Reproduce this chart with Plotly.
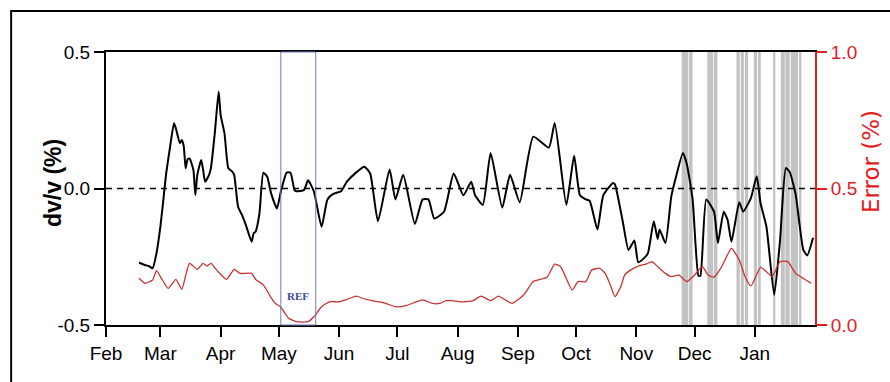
import plotly.graph_objects as go

# dv/v time series (%)
dvv_dates = [
    "2017-02-18", "2017-02-21", "2017-02-23", "2017-02-25", "2017-02-27",
    "2017-03-01", "2017-03-03", "2017-03-04", "2017-03-06", "2017-03-08",
    "2017-03-09", "2017-03-11", "2017-03-12", "2017-03-13", "2017-03-14",
    "2017-03-15", "2017-03-16", "2017-03-18", "2017-03-19", "2017-03-20",
    "2017-03-22", "2017-03-23", "2017-03-24", "2017-03-26", "2017-03-27",
    "2017-03-29", "2017-03-31", "2017-04-01", "2017-04-03", "2017-04-05",
    "2017-04-07", "2017-04-08", "2017-04-10", "2017-04-12", "2017-04-14",
    "2017-04-17", "2017-04-18", "2017-04-19", "2017-04-21", "2017-04-23",
    "2017-04-25", "2017-04-27", "2017-04-30", "2017-05-02", "2017-05-05",
    "2017-05-07", "2017-05-09", "2017-05-10", "2017-05-14", "2017-05-16",
    "2017-05-19", "2017-05-23", "2017-05-26", "2017-05-29", "2017-06-02",
    "2017-06-05", "2017-06-10", "2017-06-14", "2017-06-17", "2017-06-21",
    "2017-06-27", "2017-06-30", "2017-07-04", "2017-07-10", "2017-07-14",
    "2017-07-17", "2017-07-20", "2017-07-25", "2017-07-30", "2017-08-04",
    "2017-08-08", "2017-08-10", "2017-08-14", "2017-08-18", "2017-08-24",
    "2017-08-28", "2017-09-02", "2017-09-09", "2017-09-17", "2017-09-20",
    "2017-09-26", "2017-09-30", "2017-10-03", "2017-10-06", "2017-10-08",
    "2017-10-12", "2017-10-15", "2017-10-20", "2017-10-21", "2017-10-25",
    "2017-10-28", "2017-10-31", "2017-11-02", "2017-11-05", "2017-11-07",
    "2017-11-10", "2017-11-12", "2017-11-13", "2017-11-16", "2017-11-19",
    "2017-11-21", "2017-11-25", "2017-11-27", "2017-11-30", "2017-12-03",
    "2017-12-04", "2017-12-07", "2017-12-11", "2017-12-13", "2017-12-16",
    "2017-12-18", "2017-12-20", "2017-12-24", "2017-12-26", "2017-12-30",
    "2018-01-02", "2018-01-04", "2018-01-07", "2018-01-11", "2018-01-14",
    "2018-01-17", "2018-01-19", "2018-01-22", "2018-01-26", "2018-01-28",
    "2018-01-31",
]
dvv_values = [
    -0.272, -0.28, -0.284, -0.292, -0.237,
    -0.14, -0.01, 0.056, 0.153, 0.239,
    0.22, 0.166, 0.178, 0.156, 0.074,
    0.107, 0.11, 0.068, -0.024, 0.049,
    0.104, 0.068, 0.025, 0.049, 0.074,
    0.202, 0.355, 0.27, 0.202, 0.074,
    0.062, 0.049, -0.067, -0.097, -0.134,
    -0.195, -0.164, -0.158, -0.091, 0.058,
    0.043, -0.018, -0.073, -0.012, 0.058,
    0.058, -0.005, -0.01, -0.005, 0.03,
    -0.01, -0.14, -0.04, -0.02, -0.01,
    0.025, 0.06, 0.08, 0.055, -0.12,
    0.07, -0.04, 0.05, -0.13, -0.04,
    -0.04, -0.11, -0.085, 0.055, -0.025,
    0.025, -0.025, -0.06, 0.13, -0.07,
    0.05, -0.05, 0.19, 0.15, 0.24,
    -0.06, 0.12, -0.025, -0.04, -0.045,
    -0.15, -0.025, 0.02, 0.015, -0.12,
    -0.225, -0.19, -0.27, -0.255, -0.237,
    -0.12, -0.185, -0.15, -0.2, -0.03,
    0.03, 0.13, 0.09, -0.04, -0.32,
    -0.32, -0.04, -0.085, -0.2, -0.085,
    -0.115, -0.195, -0.05, -0.085, -0.035,
    0.045, -0.055, -0.14, -0.39, -0.19,
    0.075, 0.06, -0.02, -0.225, -0.245,
    -0.18,
]

# Error time series (%)
err_dates = [
    "2017-02-18", "2017-02-21", "2017-02-25", "2017-02-27", "2017-03-02",
    "2017-03-05", "2017-03-09", "2017-03-12", "2017-03-16", "2017-03-20",
    "2017-03-23", "2017-03-25", "2017-03-27", "2017-03-30", "2017-04-04",
    "2017-04-08", "2017-04-11", "2017-04-17", "2017-04-19", "2017-04-23",
    "2017-04-27", "2017-04-29", "2017-05-02", "2017-05-06", "2017-05-10",
    "2017-05-16", "2017-05-19", "2017-05-23", "2017-05-27", "2017-06-01",
    "2017-06-05", "2017-06-10", "2017-06-13", "2017-06-18", "2017-06-25",
    "2017-06-30", "2017-07-05", "2017-07-14", "2017-07-19", "2017-07-23",
    "2017-07-26", "2017-07-29", "2017-08-03", "2017-08-09", "2017-08-13",
    "2017-08-18", "2017-08-22", "2017-08-29", "2017-09-04", "2017-09-09",
    "2017-09-16", "2017-09-20", "2017-09-23", "2017-09-29", "2017-10-02",
    "2017-10-06", "2017-10-09", "2017-10-13", "2017-10-16", "2017-10-19",
    "2017-10-21", "2017-10-24", "2017-10-26", "2017-10-29", "2017-11-02",
    "2017-11-06", "2017-11-09", "2017-11-12", "2017-11-16", "2017-11-19",
    "2017-11-23", "2017-11-27", "2017-12-01", "2017-12-05", "2017-12-08",
    "2017-12-11", "2017-12-15", "2017-12-20", "2017-12-24", "2017-12-27",
    "2017-12-30", "2018-01-04", "2018-01-07", "2018-01-10", "2018-01-14",
    "2018-01-18", "2018-01-22", "2018-01-25", "2018-01-30",
]
err_values = [
    0.171, 0.153, 0.165, 0.199, 0.165,
    0.134, 0.167, 0.131, 0.226, 0.204,
    0.226, 0.216, 0.226, 0.201, 0.167,
    0.204, 0.189, 0.189, 0.167, 0.147,
    0.1, 0.08, 0.065, 0.025, 0.012,
    0.012, 0.03, 0.067, 0.085, 0.085,
    0.094, 0.106, 0.098, 0.089, 0.079,
    0.067, 0.07, 0.092, 0.079, 0.079,
    0.089, 0.089, 0.085, 0.089, 0.106,
    0.089, 0.106, 0.079, 0.11, 0.159,
    0.175, 0.223, 0.214, 0.128, 0.159,
    0.159, 0.201, 0.208, 0.189, 0.14,
    0.104, 0.14, 0.183, 0.201, 0.216,
    0.223, 0.232, 0.214, 0.189, 0.177,
    0.183, 0.159, 0.183, 0.214, 0.183,
    0.175, 0.214, 0.281, 0.238, 0.177,
    0.143, 0.211, 0.195, 0.177, 0.232,
    0.232, 0.189, 0.175, 0.153,
]

# Periods flagged as unreliable (shaded)
flag_starts = [
    "2017-11-24 08:00", "2017-11-28 04:00", "2017-12-07 13:00", "2017-12-10 23:00",
    "2017-12-22 14:00", "2017-12-24 19:00", "2017-12-26 21:00", "2017-12-31 12:00",
    "2018-01-02 17:00", "2018-01-10 10:00", "2018-01-14 10:00", "2018-01-16 17:00",
    "2018-01-19 12:00", "2018-01-23 19:00",
]
flag_ends = [
    "2017-11-27 19:00", "2017-11-30 00:00", "2017-12-10 14:00", "2017-12-12 19:00",
    "2017-12-24 07:00", "2017-12-26 09:00", "2017-12-28 14:00", "2018-01-02 05:00",
    "2018-01-04 02:00", "2018-01-11 14:00", "2018-01-16 10:00", "2018-01-19 00:00",
    "2018-01-23 06:00", "2018-01-25 00:00",
]

# Reference stack window
ref_start = "2017-05-02"
ref_end = "2017-05-20"
ref_label = "REF"

x_range = ["2017-02-01", "2018-02-01"]
month_ticks = ["2017-02-01", "2017-03-01", "2017-04-01", "2017-05-01", "2017-06-01",
               "2017-07-01", "2017-08-01", "2017-09-01", "2017-10-01", "2017-11-01",
               "2017-12-01", "2018-01-01"]
month_labels = ["Feb", "Mar", "Apr", "May", "Jun", "Jul", "Aug", "Sep", "Oct", "Nov",
                "Dec", "Jan"]
dvv_ticks = [-0.5, 0.0, 0.5]
dvv_tick_labels = ["-0.5", "0.0", "0.5"]
err_ticks = [0.0, 0.5, 1.0]
err_tick_labels = ["0.0", "0.5", "1.0"]

RED_AXIS = "#e3201f"
RED_LINE = "#c83232"
FONT = "Liberation Sans, Arial, sans-serif"

fig = go.Figure()

fig.add_trace(go.Scatter(
    x=dvv_dates, y=dvv_values, mode="lines",
    line=dict(color="black", width=2, shape="spline", smoothing=0.5),
    yaxis="y", showlegend=False,
))
fig.add_trace(go.Scatter(
    x=err_dates, y=err_values, mode="lines",
    line=dict(color=RED_LINE, width=1.3, shape="spline", smoothing=0.5),
    yaxis="y2", showlegend=False,
))

shapes = []
for s, e in zip(flag_starts, flag_ends):
    shapes.append(dict(type="rect", xref="x", yref="paper", x0=s, x1=e, y0=0, y1=1,
                       fillcolor="#c3c3c3", line=dict(width=0), layer="below"))
# reference window box
shapes.append(dict(type="rect", xref="x", yref="paper", x0=ref_start, x1=ref_end,
                   y0=0, y1=1, fillcolor="rgba(0,0,0,0)",
                   line=dict(color="#6c7bbd", width=1), layer="above"))
# zero line
shapes.append(dict(type="line", xref="paper", yref="y", x0=0, x1=1, y0=0, y1=0,
                   line=dict(color="black", width=1.4, dash="6px,5px"), layer="above"))
# outer frame
shapes.append(dict(type="rect", xref="paper", yref="paper",
                   x0=-0.1338, x1=1.3, y0=-0.4, y1=1.150,
                   fillcolor="rgba(0,0,0,0)", line=dict(color="black", width=2),
                   layer="above"))

annotations = [
    dict(x="2017-05-11", y=-0.395, xref="x", yref="y", text="<b>" + ref_label + "</b>",
         showarrow=False, font=dict(family="Liberation Serif, Times New Roman, serif",
                                    size=11, color="#3d4a9c")),
    dict(x=-0.096, y=0.52, xref="paper", yref="paper", text="<b>dv/v (%)</b>",
         textangle=-90, showarrow=False, font=dict(family=FONT, size=23, color="black")),
    dict(x=1.1, y=0.60, xref="paper", yref="paper", xanchor="right",
         text="Error (%)", textangle=-90, showarrow=False,
         font=dict(family="DejaVu Sans, sans-serif", size=23, color=RED_AXIS)),
]

fig.update_layout(
    width=890, height=382,
    margin=dict(l=106, r=75, t=52, b=57),
    paper_bgcolor="white", plot_bgcolor="white",
    font=dict(family=FONT, size=19, color="black"),
    shapes=shapes, annotations=annotations,
    xaxis=dict(
        type="date", range=x_range, tickvals=month_ticks, ticktext=month_labels,
        showgrid=False, zeroline=False, showline=True, linecolor="black", linewidth=2,
        mirror=True, ticks="outside", ticklen=10, tickwidth=2, tickcolor="black",
        tickfont=dict(size=19, color="black"),
    ),
    yaxis=dict(
        range=[-0.5, 0.5], tickvals=dvv_ticks, ticktext=dvv_tick_labels,
        showgrid=False, zeroline=False, showline=True, linecolor="black", linewidth=2,
        ticks="outside", ticklen=10, tickwidth=2, tickcolor="black",
        tickfont=dict(size=19, color="black"),
    ),
    yaxis2=dict(
        overlaying="y", side="right", range=[0, 1], tickvals=err_ticks,
        ticktext=err_tick_labels, showgrid=False, zeroline=False, showline=True,
        linecolor=RED_AXIS, linewidth=2, ticks="outside", ticklen=10, tickwidth=2,
        tickcolor=RED_AXIS, tickfont=dict(size=19, color=RED_AXIS),
    ),
)

fig.write_html("out.html")
